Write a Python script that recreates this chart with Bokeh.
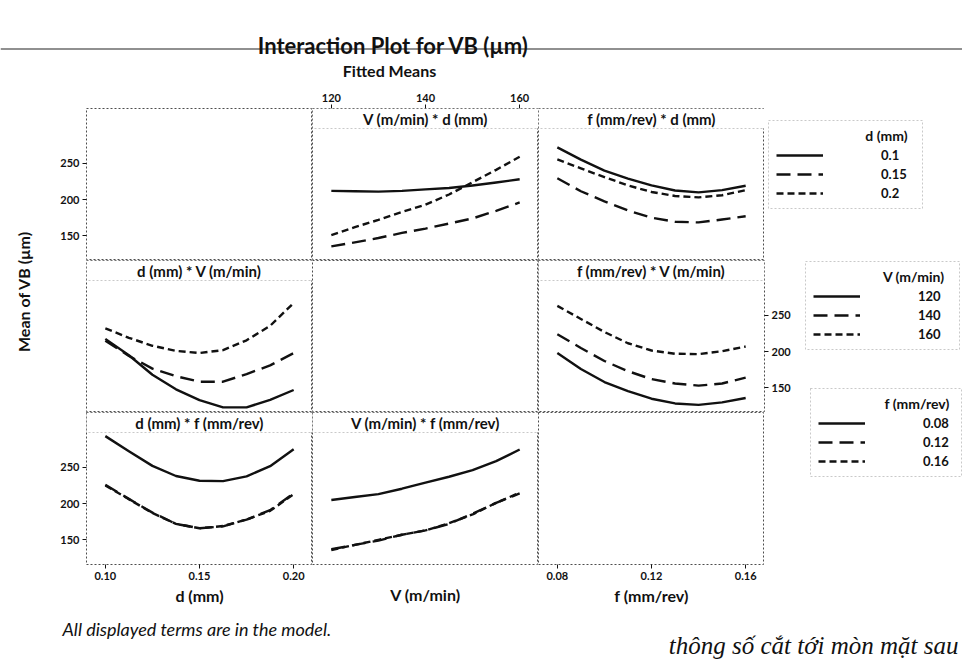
from math import pi

from bokeh.plotting import figure
from bokeh.layouts import row, column
from bokeh.models import (Range1d, FixedTicker, LinearAxis, BoxAnnotation, Label,
                          Legend, LegendItem, Span, PrintfTickFormatter)
from bokeh.embed import file_html
from bokeh.resources import INLINE

# ---------------- data ----------------
# factor levels (legend entries)
d_levels = ["0.1", "0.15", "0.2"]
v_levels = ["120", "140", "160"]
f_levels = ["0.08", "0.12", "0.16"]

# x positions at which the fitted means are listed
d_grid = [0.100, 0.1125, 0.125, 0.1375, 0.150, 0.1625, 0.175, 0.1875, 0.200]
v_grid = [120, 125, 130, 135, 140, 145, 150, 155, 160]
f_grid = [0.08, 0.09, 0.10, 0.11, 0.12, 0.13, 0.14, 0.15, 0.16]

# fitted mean VB (µm)
# V (m/min) * d (mm)
vd_d01 = [212, 211.5, 211, 212, 214, 216, 219.5, 223.5, 228]
vd_d015 = [135.5, 141, 147, 154, 160, 167, 174, 184.5, 196]
vd_d02 = [151, 162, 172, 183, 193, 207, 224, 241, 259]
# f (mm/rev) * d (mm)
fd_d01 = [272, 255, 240, 229, 219.5, 212.5, 210, 213, 219]
fd_d015 = [229.5, 211.5, 197.5, 185, 175, 169.5, 168.5, 172.5, 177]
fd_d02 = [255.5, 243, 231, 219.5, 210.5, 205, 203, 206, 213]
# d (mm) * V (m/min)
dv_v120 = [217.5, 195, 168, 148, 133, 123, 123, 133.5, 147]
dv_v140 = [215, 194, 176.5, 166, 158.5, 158.5, 169, 181, 198]
dv_v160 = [232, 219, 208, 201, 198, 202, 215.5, 235.5, 267]
# f (mm/rev) * V (m/min)
fv_v120 = [198, 176, 158, 145.5, 135, 128.5, 126.5, 130, 136]
fv_v140 = [224, 205, 187, 173, 162, 156, 153, 156, 164]
fv_v160 = [263, 245, 227, 211.5, 201.5, 197, 196.5, 200.5, 207]
# d (mm) * f (mm/rev)
df_f008 = [293, 272, 252, 238, 231.5, 231, 237.5, 251.5, 275]
df_f012 = [226, 206.5, 187.5, 172, 166, 168.5, 178, 191, 214]
df_f016 = [225, 206, 187, 172, 166, 169, 178, 190, 213]
# V (m/min) * f (mm/rev)
vf_f008 = [205, 209, 213, 220.5, 229, 237, 246, 258.5, 274.5]
vf_f012 = [137, 143, 149, 157, 163, 172, 186, 201, 214]
vf_f016 = [136, 143, 150, 157, 163, 173, 185, 201, 215]

y_ticks = [150, 200, 250]
d_ticks = [0.10, 0.15, 0.20]
v_ticks = [120, 140, 160]
f_ticks = [0.08, 0.12, 0.16]

# ---------------- styling ----------------
FONT = "Lato"
INK = "#111111"
FRAME = "#4d4d4d"
FRAME_DASH = "2 2"
LINE_W = 2.4
STYLES = [dict(line_dash="solid"), dict(line_dash="14 7"), dict(line_dash="7 4")]
NAN = float("nan")

FRAME_W = 226
DATA_H = 132
STRIP_H = 20
CELL_H = DATA_H + STRIP_H
Y_LO, Y_HI = 116, 298
Y_TOP = Y_HI + (Y_HI - Y_LO) * STRIP_H / DATA_H

TOP_B = 28      # room for the V axis above row 1
BOT_B = 46      # room for the x axes below row 3
LEFT_B = 40     # room for the y axis left of column 1
RIGHT_B = 40    # room for the y axis right of column 3 (row 2)
YLAB_W = 46
PAGE_W = 962
HEAD_H = 80

y_range = Range1d(Y_LO, Y_TOP)
x_ranges = {
    "d": Range1d(0.09, 0.21),
    "V": Range1d(116, 164),
    "f": Range1d(0.072, 0.168),
}
grids = {"d": d_grid, "V": v_grid, "f": f_grid}


def style_axis(ax):
    ax.axis_line_color = None
    ax.major_tick_line_color = INK
    ax.major_tick_out = 4
    ax.major_tick_in = 0
    ax.minor_tick_line_color = None
    ax.major_label_text_font = FONT
    ax.major_label_text_font_size = "11px"
    ax.major_label_text_font_style = "bold"
    ax.major_label_text_color = INK
    ax.major_label_standoff = 3
    ax.axis_label_text_font = FONT
    ax.axis_label_text_font_size = "16px"
    ax.axis_label_text_font_style = "bold"
    ax.axis_label_text_color = INK
    ax.axis_label_standoff = 3
    return ax


def blank(fig):
    fig.grid.visible = False
    fig.background_fill_color = "white"
    fig.border_fill_color = "white"
    return fig


def panel(xkey, strip=None, series=None, left=0, right=0, top=0, bottom=0):
    p = figure(frame_width=FRAME_W, frame_height=CELL_H,
               x_range=x_ranges[xkey], y_range=y_range,
               x_axis_location=None, y_axis_location=None,
               toolbar_location=None, output_backend="svg",
               min_border=0, min_border_left=left, min_border_right=right,
               min_border_top=top, min_border_bottom=bottom)
    blank(p)
    p.outline_line_color = FRAME
    p.outline_line_dash = FRAME_DASH
    p.outline_line_width = 1
    if series:
        for ys, st in zip(series, STYLES):
            p.line(grids[xkey], ys, line_color=INK, line_width=LINE_W,
                   line_join="round", **st)
    if strip:
        p.add_layout(BoxAnnotation(bottom=Y_HI, fill_color="white", fill_alpha=1.0,
                                   line_color=FRAME, line_dash=FRAME_DASH, line_width=1))
        xr = x_ranges[xkey]
        p.add_layout(Label(x=(xr.start + xr.end) / 2, y=(Y_HI + Y_TOP) / 2, text=strip,
                           text_align="center", text_baseline="middle",
                           text_font=FONT, text_font_size="15px",
                           text_font_style="bold", text_color=INK))
    return p


def y_axis(p, side):
    p.add_layout(style_axis(LinearAxis(ticker=FixedTicker(ticks=y_ticks))), side)


def x_axis(p, side, ticks, label=None, fmt=None, label_standoff=3):
    ax = style_axis(LinearAxis(ticker=FixedTicker(ticks=ticks)))
    if fmt:
        ax.formatter = PrintfTickFormatter(format=fmt)
    if label:
        ax.axis_label = label
    ax.axis_label_standoff = label_standoff
    p.add_layout(ax, side)


# ---- row 1: traces for d (mm)
p11 = panel("d", left=LEFT_B, top=TOP_B)
y_axis(p11, "left")
p12 = panel("V", "V (m/min) * d (mm)", [vd_d01, vd_d015, vd_d02], top=TOP_B)
x_axis(p12, "above", v_ticks)
p13 = panel("f", "f (mm/rev) * d (mm)", [fd_d01, fd_d015, fd_d02], top=TOP_B)

# ---- row 2: traces for V (m/min)
p21 = panel("d", "d (mm) * V (m/min)", [dv_v120, dv_v140, dv_v160], left=LEFT_B)
p22 = panel("V")
p23 = panel("f", "f (mm/rev) * V (m/min)", [fv_v120, fv_v140, fv_v160], right=RIGHT_B)
y_axis(p23, "right")

# ---- row 3: traces for f (mm/rev)
p31 = panel("d", "d (mm) * f (mm/rev)", [df_f008, df_f012, df_f016], left=LEFT_B, bottom=BOT_B)
y_axis(p31, "left")
x_axis(p31, "below", d_ticks, "d (mm)", "%.2f")
p32 = panel("V", "V (m/min) * f (mm/rev)", [vf_f008, vf_f012, vf_f016], bottom=BOT_B)
x_axis(p32, "below", [], "V (m/min)", label_standoff=20)
p33 = panel("f", bottom=BOT_B)
x_axis(p33, "below", f_ticks, "f (mm/rev)", "%.2f")


# ---- legend boxes for the trace factors, in the free space at the right.
# Local units of a legend figure are pixels measured from its frame's bottom-left.
LEG_H = 88          # box height
LEG_ITEMS = 56      # three entries of 18 px plus spacing
LEG_TITLE_X = 139   # right edge of the title, from the box's left side
LEG_GLYPH_W = 47
LEG_STANDOFF = 58


def legend_canvas(width, height, top=0, bottom=0):
    p = figure(frame_width=width, frame_height=height,
               x_range=Range1d(0, width), y_range=Range1d(0, height),
               x_axis_location=None, y_axis_location=None,
               toolbar_location=None, output_backend="svg",
               min_border=0, min_border_top=top, min_border_bottom=bottom)
    blank(p)
    p.outline_line_color = None
    return p


def add_legend(p, width, title, labels, box_left, box_top):
    box_w = min(154, width - box_left - 1)
    p.add_layout(BoxAnnotation(left=box_left, right=box_left + box_w,
                               bottom=box_top - LEG_H, top=box_top,
                               fill_color="white", fill_alpha=1.0, line_color=FRAME,
                               line_dash=FRAME_DASH, line_width=1))
    p.add_layout(Label(x=box_left + LEG_TITLE_X, y=box_top - 15, text=title,
                       text_align="right", text_baseline="middle", text_font=FONT,
                       text_font_size="14px", text_font_style="bold", text_color=INK))
    items = []
    for lab, st in zip(labels, STYLES):
        r = p.line(x=[0, 1], y=[NAN, NAN], line_color=INK, line_width=LINE_W, **st)
        items.append(LegendItem(label=lab, renderers=[r]))
    leg = Legend(items=items, location=(box_left + 8, box_top - 26 - LEG_ITEMS),
                 border_line_color=None, background_fill_alpha=0.0,
                 padding=0, spacing=1, margin=0, glyph_width=LEG_GLYPH_W, glyph_height=18,
                 label_height=18, label_width=30, label_standoff=LEG_STANDOFF,
                 label_text_font=FONT, label_text_font_size="13px",
                 label_text_font_style="bold", label_text_color=INK)
    p.add_layout(leg, "center")


W1 = PAGE_W - YLAB_W - (LEFT_B + FRAME_W) - 2 * FRAME_W
W23 = W1 - RIGHT_B
lg1 = legend_canvas(W1, CELL_H, top=TOP_B)
add_legend(lg1, W1, "d (mm)", d_levels, 4, 140)
lg23 = legend_canvas(W23, 2 * CELL_H, bottom=BOT_B)
add_legend(lg23, W23, "V (m/min)", v_levels, 1, 2 * CELL_H - 1)
add_legend(lg23, W23, "f (mm/rev)", f_levels, 6, 176)

# ---- header, y-axis title, footer
header = blank(figure(frame_width=PAGE_W, frame_height=HEAD_H, x_range=Range1d(0, PAGE_W),
                      y_range=Range1d(HEAD_H, 0), x_axis_location=None, y_axis_location=None,
                      toolbar_location=None, output_backend="svg", min_border=0))
header.outline_line_color = None
header.add_layout(Span(location=48.5, dimension="width", line_color="#222222", line_width=1.2))
header.add_layout(Label(x=393, y=45, text="Interaction Plot for VB (µm)", text_align="center",
                        text_baseline="alphabetic", text_font=FONT, text_font_size="22px",
                        text_font_style="bold", text_color=INK))
header.add_layout(Label(x=389, y=70, text="Fitted Means", text_align="center",
                        text_baseline="alphabetic", text_font=FONT, text_font_size="16px",
                        text_font_style="bold", text_color=INK))

GRID_H = TOP_B + 3 * CELL_H + BOT_B
ylab = blank(figure(frame_width=YLAB_W, frame_height=GRID_H, x_range=Range1d(0, YLAB_W),
                    y_range=Range1d(HEAD_H + GRID_H, HEAD_H), x_axis_location=None,
                    y_axis_location=None, toolbar_location=None, output_backend="svg",
                    min_border=0))
ylab.outline_line_color = None
ylab.add_layout(Label(x=23, y=291, text="Mean of VB (µm)", angle=pi / 2,
                      text_align="center", text_baseline="middle", text_font=FONT,
                      text_font_size="16px", text_font_style="bold", text_color=INK))

FOOT_TOP = HEAD_H + GRID_H
footer = blank(figure(frame_width=PAGE_W, frame_height=663 - FOOT_TOP, x_range=Range1d(0, PAGE_W),
                      y_range=Range1d(663, FOOT_TOP), x_axis_location=None, y_axis_location=None,
                      toolbar_location=None, output_backend="svg", min_border=0))
footer.outline_line_color = None
footer.add_layout(Label(x=62, y=628, text="All displayed terms are in the model.",
                        text_align="left", text_baseline="alphabetic", text_font=FONT,
                        text_font_size="18px", text_font_style="italic", text_color=INK))
footer.add_layout(Label(x=958, y=645, text="thông số cắt tới mòn mặt sau",
                        text_align="right", text_baseline="alphabetic",
                        text_font="Liberation Serif", text_font_size="25px",
                        text_font_style="italic", text_color=INK))

rows23 = column(row(p21, p22, p23), row(p31, p32, p33))
grid = column(row(p11, p12, p13, lg1), row(rows23, lg23))
page = column(header, row(ylab, grid), footer)

open("out.html", "w").write(file_html(page, INLINE))
